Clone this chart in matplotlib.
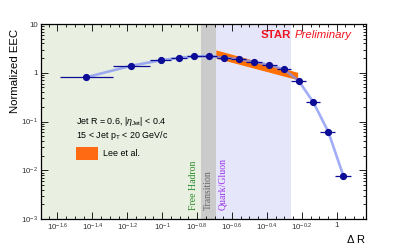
import numpy as np
import matplotlib
matplotlib.use("Agg")
import matplotlib.pyplot as plt
from matplotlib.ticker import FixedLocator, FixedFormatter, NullFormatter
from matplotlib.patches import Rectangle

plt.rcParams['font.family'] = ['Liberation Sans', 'DejaVu Sans']
plt.rcParams['mathtext.fontset'] = 'custom'
plt.rcParams['mathtext.rm'] = 'Liberation Sans'
plt.rcParams['mathtext.it'] = 'Liberation Sans:italic'
plt.rcParams['mathtext.bf'] = 'Liberation Sans:bold'

# data
dr = [0.0366, 0.0662, 0.098, 0.125, 0.153, 0.185, 0.227, 0.277, 0.337,
      0.409, 0.499, 0.605, 0.734, 0.895, 1.09]
bin_edges = [0.026, 0.052, 0.085, 0.112, 0.139, 0.168, 0.205, 0.249, 0.304,
             0.371, 0.452, 0.547, 0.667, 0.807, 0.984, 1.21]
eec = [0.805, 1.39, 1.80, 2.03, 2.17, 2.20, 2.03, 1.91, 1.66,
       1.46, 1.17, 0.686, 0.25, 0.0615, 0.0078]

# Lee et al. band
lee_x = [0.203, 0.597]
lee_lo = [2.0, 0.72]
lee_hi = [2.95, 1.02]

# regions
free_hadron = [0.0, 0.167]
transition = [0.167, 0.203]
quark_gluon = [0.203, 0.547]

xmin, xmax = 10**-1.696, 10**0.166

fig = plt.figure(figsize=(4.07, 2.45), dpi=100)
ax = fig.add_axes([0.1, 0.106, 0.7985, 0.796])

ax.axvspan(xmin, free_hadron[1], color='#e9f0e1', lw=0, zorder=0)
ax.axvspan(transition[0], transition[1], color='#cbcbcb', lw=0, zorder=0)
ax.axvspan(quark_gluon[0], quark_gluon[1], color='#e6e6fa', lw=0, zorder=0)

ax.fill_between(lee_x, lee_lo, lee_hi, color='#ff7000', lw=0, zorder=2)

ax.plot(dr, eec, color='#8292f4', lw=1.9, alpha=0.75, zorder=3)

xerr_lo = [d - e for d, e in zip(dr, bin_edges[:-1])]
xerr_hi = [e - d for d, e in zip(dr, bin_edges[1:])]
ax.errorbar(dr, eec, xerr=[xerr_lo, xerr_hi], fmt='o', color='#0c0c96',
            ms=4.2, elinewidth=0.9, capsize=0, zorder=4)

ax.set_xscale('log')
ax.set_yscale('log')
ax.set_xlim(xmin, xmax)
ax.set_ylim(1e-3, 10)

# x ticks in log10 steps of 0.2
maj = np.arange(-1.6, 0.01, 0.2)
ax.xaxis.set_major_locator(FixedLocator(10**maj))
labs = []
for m in maj:
    m = round(m, 1)
    if m == 0:
        labs.append('1')
    elif m == -1:
        labs.append(r'$10^{-1}$')
    else:
        labs.append(r'$10^{%.1f}$' % m)
ax.xaxis.set_major_formatter(FixedFormatter(labs))
ax.xaxis.set_minor_locator(FixedLocator(10**np.arange(-1.65, 0.17, 0.05)))
ax.xaxis.set_minor_formatter(NullFormatter())

ax.yaxis.set_major_locator(FixedLocator([1e-3, 1e-2, 1e-1, 1, 10]))
ax.yaxis.set_major_formatter(FixedFormatter([r'$10^{-3}$', r'$10^{-2}$', r'$10^{-1}$', '1', '10']))
yminor = [k * 10.0**d for d in range(-3, 1) for k in range(2, 10)]
ax.yaxis.set_minor_locator(FixedLocator(yminor))
ax.yaxis.set_minor_formatter(NullFormatter())

ax.tick_params(which='both', direction='in', top=True, right=True,
               labelsize=5.7, labelcolor='#333333', width=0.6, pad=2)
ax.tick_params(which='major', length=5)
ax.tick_params(which='minor', length=2.5)
for s in ax.spines.values():
    s.set_linewidth(0.9)

fig.text(0.037, (245 - 29) / 245, 'Normalized EEC', rotation=90, ha='center', va='top', fontsize=8.2)
fig.text(365.7 / 407, (245 - 239) / 245, r'$\Delta$ R', ha='right', va='center', fontsize=8)

ax.text(0.678, 0.945, 'STAR', transform=ax.transAxes, ha='left', va='center',
        color='#f0141e', fontsize=8.2, fontweight='bold')
ax.text(0.782, 0.945, 'Preliminary', transform=ax.transAxes, ha='left', va='center',
        color='#f0141e', fontsize=8.2, style='italic')

ax.text(0.109, 0.5, r'Jet R = 0.6, |$\eta_{\mathrm{Jet}}$| < 0.4', transform=ax.transAxes,
        ha='left', va='center', fontsize=6.4)
ax.text(0.109, 0.43, r'15 < Jet p$_{\mathrm{T}}$ < 20 GeV/c', transform=ax.transAxes,
        ha='left', va='center', fontsize=6.4)
ax.add_patch(Rectangle((0.109, 0.305), 0.066, 0.062, transform=ax.transAxes,
                       color='#ff6a13', lw=0, zorder=5))
ax.text(0.193, 0.336, 'Lee et al.', transform=ax.transAxes, ha='left', va='center', fontsize=6.4)

ax.text(0.152, 10**-2.82, 'Free Hadron', rotation=90, ha='center', va='bottom',
        color='#2a8a2a', fontsize=7, family='Liberation Serif')
ax.text(0.184, 10**-2.82, 'Transition', rotation=90, ha='center', va='bottom',
        color='#666666', fontsize=7, family='Liberation Serif')
ax.text(0.222, 10**-2.82, 'Quark/Gluon', rotation=90, ha='center', va='bottom',
        color='#9933ee', fontsize=7, family='Liberation Serif')

fig.savefig('out.png', dpi=100)
